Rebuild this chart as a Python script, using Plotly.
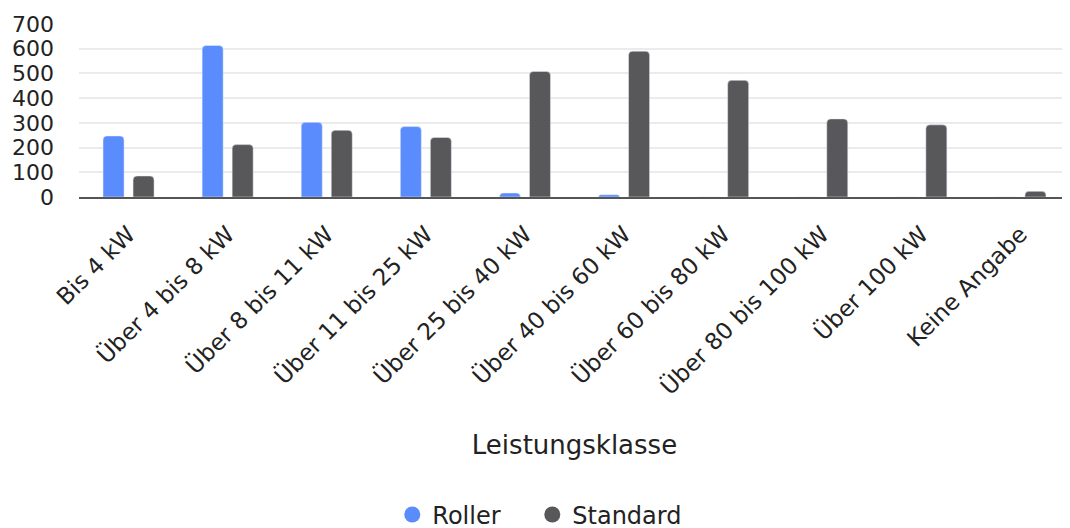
import plotly.graph_objects as go

categories = ["Bis 4 kW", "Über 4 bis 8 kW", "Über 8 bis 11 kW", "Über 11 bis 25 kW",
              "Über 25 bis 40 kW", "Über 40 bis 60 kW", "Über 60 bis 80 kW",
              "Über 80 bis 100 kW", "Über 100 kW", "Keine Angabe"]
roller = [247, 613, 302, 285, 16, 9, 0, 0, 0, 0]
standard = [85, 212, 270, 241, 508, 590, 472, 316, 292, 23]
y_ticks = [0, 100, 200, 300, 400, 500, 600, 700]

BLUE = "#5B8CFE"
GREY = "#58585A"
TEXT = "#222222"
FONT = "DejaVu Sans"

fig = go.Figure()
fig.add_trace(go.Bar(x=categories, y=roller, name="Roller", marker_color=BLUE,
                     marker_cornerradius=4, showlegend=False))
fig.add_trace(go.Bar(x=categories, y=standard, name="Standard", marker_color=GREY,
                     marker_cornerradius=4, showlegend=False))
# legend entries with circular markers
fig.add_trace(go.Scatter(x=[None], y=[None], mode="markers", name="Roller", legendwidth=95,
                         marker=dict(color=BLUE, size=24, symbol="circle")))
fig.add_trace(go.Scatter(x=[None], y=[None], mode="markers", name="Standard",
                         marker=dict(color=GREY, size=24, symbol="circle")))

fig.update_layout(
    width=1070, height=528,
    margin=dict(l=71, r=8, t=16, b=339),
    paper_bgcolor="white", plot_bgcolor="white",
    font=dict(family=FONT, color=TEXT, size=22),
    barmode="group", bargap=0.394, bargroupgap=0.3,
    legend=dict(orientation="h", xref="container", x=0.497, xanchor="center",
                yref="container", y=0.04, yanchor="middle",
                font=dict(size=24, color=TEXT), itemsizing="trace"),
    xaxis=dict(tickangle=-45, tickfont=dict(size=23, color=TEXT), ticklabelstandoff=13,
               title=dict(text="Leistungsklasse", font=dict(size=26, color=TEXT), standoff=37),
               showline=True, linecolor="#555555", linewidth=1.5, ticks="",
               automargin=False),
    yaxis=dict(range=[0, 700], tickvals=y_ticks, showgrid=True, gridcolor="#EBEBEB",
               gridwidth=1.5, zeroline=False, ticks="", ticklabelstandoff=24,
               ticklabeloverflow="allow",
               tickfont=dict(size=22, color=TEXT), automargin=False),
)

fig.write_html("out.html")
